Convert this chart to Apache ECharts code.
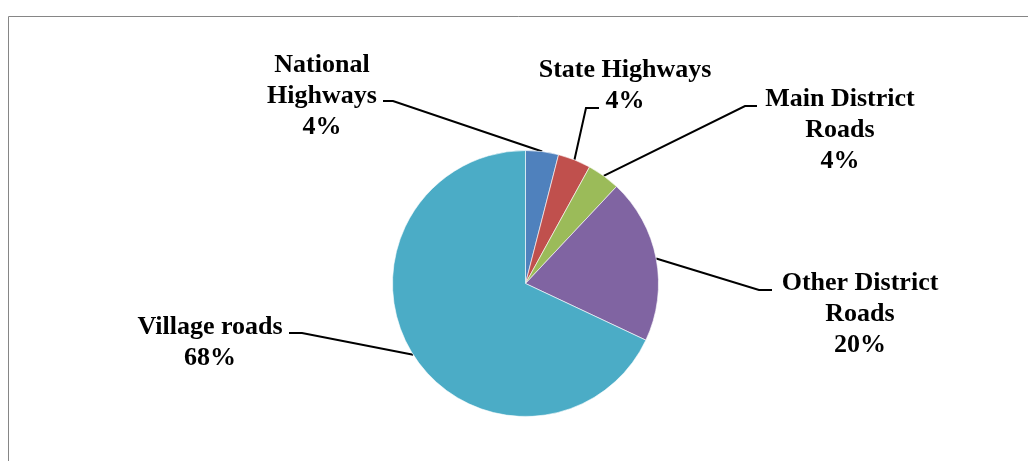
<!DOCTYPE html>
<html>
<head>
<meta charset="utf-8">
<script src="https://cdn.jsdelivr.net/npm/echarts@6/dist/echarts.min.js"></script>
<style>
  html, body { margin: 0; padding: 0; background: #fff; }
  #chart { width: 1028px; height: 461px; }
</style>
</head>
<body>
<div id="chart"></div>
<script>
// Road network share by road category (percent of total length)
const categories = [
  'National\nHighways',
  'State Highways',
  'Main District\nRoads',
  'Other District\nRoads',
  'Village roads'
];
const shares = [4, 4, 4, 20, 68];
const colors = ['#4F81BD', '#C0504D', '#9BBB59', '#8064A2', '#4BACC6'];

// Where each label sits, and where its leader line turns and ends
const labelPlacement = [
  { x: 322, y: 96.5, elbow: [393, 101], end: [383, 101] },
  { x: 625, y: 85.5, elbow: [586, 108], end: [599, 108] },
  { x: 840, y: 130,  elbow: [745, 106], end: [757, 106] },
  { x: 860, y: 314,  elbow: [759, 290], end: [772, 290] },
  { x: 210, y: 343,  elbow: [302, 333], end: [289, 333] }
];

const chart = echarts.init(document.getElementById('chart'), null, { renderer: 'canvas' });

chart.setOption({
  backgroundColor: '#ffffff',
  animation: false,
  graphic: [{
    type: 'rect',
    shape: { x: 8.5, y: 16.5, width: 1100, height: 600 },
    style: { fill: 'none', stroke: '#868686', lineWidth: 1 },
    silent: true
  }],
  series: [{
    type: 'pie',
    center: [525.5, 283.5],
    radius: 133,
    startAngle: 90,
    clockwise: true,
    avoidLabelOverlap: false,
    itemStyle: { borderColor: '#ffffff', borderWidth: 0.6 },
    label: {
      show: true,
      position: 'outside',
      fontFamily: '"Liberation Serif", "Times New Roman", serif',
      fontWeight: 'bold',
      fontSize: 26,
      lineHeight: 31,
      color: '#000',
      align: 'center',
      formatter: p => p.name + '\n' + p.value + '%'
    },
    labelLine: {
      show: true,
      smooth: false,
      lineStyle: { color: '#000', width: 2 }
    },
    labelLayout: params => {
      const place = labelPlacement[params.dataIndex];
      const start = params.labelLinePoints ? params.labelLinePoints[0] : place.elbow;
      return {
        x: place.x,
        y: place.y,
        align: 'center',
        verticalAlign: 'middle',
        labelLinePoints: [start, place.elbow, place.end]
      };
    },
    data: categories.map((name, i) => ({
      name: name,
      value: shares[i],
      itemStyle: { color: colors[i] }
    }))
  }]
});
</script>
</body>
</html>
